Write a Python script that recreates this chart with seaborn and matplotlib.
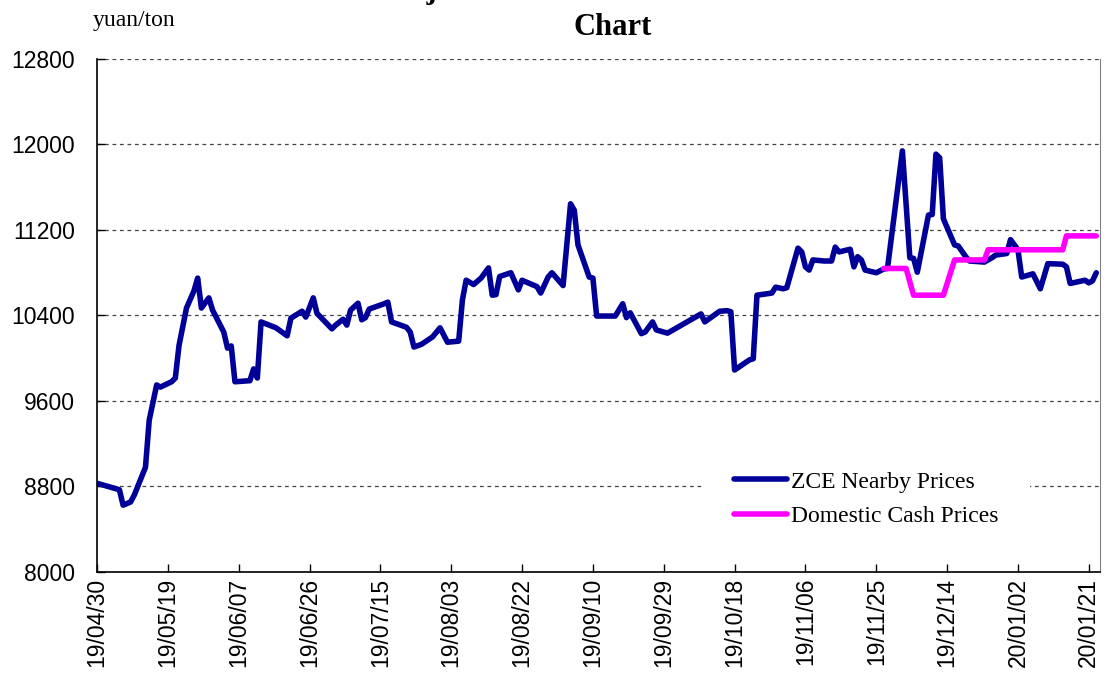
import matplotlib
matplotlib.use("Agg")
import matplotlib.pyplot as plt
import matplotlib.dates as mdates
import pandas as pd
import seaborn as sns

# ── data
zce_dates = [
    "2019-04-30", "2019-05-06", "2019-05-07", "2019-05-08", "2019-05-09", "2019-05-10",
    "2019-05-13", "2019-05-14", "2019-05-16", "2019-05-17", "2019-05-20", "2019-05-21",
    "2019-05-22", "2019-05-24", "2019-05-26", "2019-05-27", "2019-05-28", "2019-05-30",
    "2019-05-31", "2019-06-03", "2019-06-04", "2019-06-05", "2019-06-06", "2019-06-10",
    "2019-06-11", "2019-06-12", "2019-06-13", "2019-06-17", "2019-06-19", "2019-06-20",
    "2019-06-21", "2019-06-24", "2019-06-25", "2019-06-27", "2019-06-28", "2019-07-02",
    "2019-07-03", "2019-07-05", "2019-07-06", "2019-07-07", "2019-07-09", "2019-07-10",
    "2019-07-11", "2019-07-12", "2019-07-16", "2019-07-17", "2019-07-18", "2019-07-22",
    "2019-07-23", "2019-07-24", "2019-07-26", "2019-07-29", "2019-07-31", "2019-08-02",
    "2019-08-05", "2019-08-06", "2019-08-07", "2019-08-09", "2019-08-11", "2019-08-13",
    "2019-08-14", "2019-08-15", "2019-08-16", "2019-08-19", "2019-08-21", "2019-08-22",
    "2019-08-26", "2019-08-27", "2019-08-29", "2019-08-30", "2019-09-02", "2019-09-04",
    "2019-09-05", "2019-09-06", "2019-09-09", "2019-09-10", "2019-09-11", "2019-09-16",
    "2019-09-18", "2019-09-19", "2019-09-20", "2019-09-23", "2019-09-24", "2019-09-26",
    "2019-09-27", "2019-09-30", "2019-10-08", "2019-10-09", "2019-10-10", "2019-10-14",
    "2019-10-16", "2019-10-17", "2019-10-18", "2019-10-22", "2019-10-23", "2019-10-24",
    "2019-10-28", "2019-10-29", "2019-10-31", "2019-11-01", "2019-11-04", "2019-11-05",
    "2019-11-06", "2019-11-07", "2019-11-08", "2019-11-11", "2019-11-13", "2019-11-14",
    "2019-11-15", "2019-11-18", "2019-11-19", "2019-11-20", "2019-11-21", "2019-11-22",
    "2019-11-25", "2019-11-27", "2019-11-28", "2019-12-02", "2019-12-04", "2019-12-05",
    "2019-12-06", "2019-12-09", "2019-12-10", "2019-12-11", "2019-12-12", "2019-12-13",
    "2019-12-16", "2019-12-17", "2019-12-19", "2019-12-20", "2019-12-24", "2019-12-26",
    "2019-12-27", "2019-12-30", "2019-12-31", "2020-01-02", "2020-01-03", "2020-01-06",
    "2020-01-08", "2020-01-10", "2020-01-14", "2020-01-15", "2020-01-16", "2020-01-20",
    "2020-01-21", "2020-01-22", "2020-01-23",
]
zce_prices = [
    8830, 8770, 8625, 8640, 8655, 8720,
    8980, 9420, 9750, 9730, 9780, 9815,
    10120, 10470, 10630, 10750, 10470, 10565,
    10450, 10245, 10095, 10115, 9780, 9790,
    9900, 9815, 10340, 10285, 10235, 10210,
    10375, 10440, 10385, 10565, 10420, 10275,
    10310, 10365, 10310, 10450, 10515, 10360,
    10380, 10460, 10510, 10525, 10340, 10290,
    10245, 10105, 10130, 10200, 10285, 10150,
    10160, 10545, 10730, 10690, 10750, 10845,
    10590, 10595, 10765, 10800, 10640, 10730,
    10670, 10610, 10760, 10800, 10680, 11445,
    11385, 11060, 10760, 10750, 10395, 10395,
    10510, 10380, 10425, 10230, 10245, 10340,
    10265, 10235, 10395, 10415, 10340, 10440,
    10445, 10435, 9890, 9985, 9995, 10590,
    10610, 10665, 10650, 10660, 11030, 10995,
    10855, 10825, 10920, 10910, 10910, 11040,
    10995, 11020, 10855, 10950, 10920, 10825,
    10800, 10835, 10840, 11940, 10940, 10935,
    10805, 11340, 11345, 11910, 11875, 11305,
    11060, 11050, 10950, 10910, 10900, 10940,
    10965, 10980, 11110, 11015, 10760, 10790,
    10650, 10885, 10880, 10855, 10700, 10730,
    10705, 10725, 10800,
]

cash_dates = ["2019-11-27", "2019-12-03", "2019-12-05", "2019-12-13", "2019-12-16",
              "2019-12-24", "2019-12-25", "2020-01-14", "2020-01-15", "2020-01-23"]
cash_prices = [10840, 10840, 10590, 10590, 10920, 10920, 11015, 11015, 11145, 11145]

y_ticks = list(range(8000, 12801, 800))

zce = pd.DataFrame({"date": pd.to_datetime(zce_dates), "price": zce_prices})
cash = pd.DataFrame({"date": pd.to_datetime(cash_dates), "price": cash_prices})

sns.set_style("white")
plt.rcParams["font.family"] = ["Liberation Sans", "DejaVu Sans"]
plt.rcParams["text.color"] = "black"
plt.rcParams["lines.solid_capstyle"] = "round"
plt.rcParams["lines.solid_joinstyle"] = "round"

W, H = 1107, 677
fig = plt.figure(figsize=(W / 100, H / 100), dpi=100)
ax = fig.add_axes([97 / W, 1 - 572 / H, 1003 / W, 513 / H])

sns.lineplot(data=zce, x="date", y="price", ax=ax, color="#000099", lw=4.0,
             estimator=None, sort=False, label="ZCE Nearby Prices")
sns.lineplot(data=cash, x="date", y="price", ax=ax, color="#FF00FF", lw=4.0,
             estimator=None, sort=False, label="Domestic Cash Prices")

ax.set_ylim(8000, 12800)
ax.set_yticks(y_ticks)
ax.set_xlim(pd.Timestamp("2019-04-30"), pd.Timestamp("2020-01-24"))
ax.set_xticks(pd.date_range("2019-04-30", "2020-01-21", freq="19D"))
ax.xaxis.set_major_formatter(mdates.DateFormatter("%y/%m/%d"))
ax.set_xlabel("")
ax.set_ylabel("")

ax.grid(axis="y", linestyle=(0, (3, 3)), color="#444444", lw=0.9)
ax.grid(axis="x", visible=False)
ax.set_axisbelow(True)
ax.spines["top"].set_visible(False)
ax.spines["right"].set_color("#808080")
for s in ["left", "bottom"]:
    ax.spines[s].set_color("black")
    ax.spines[s].set_linewidth(1.2)

ax.tick_params(axis="both", direction="in", length=6, width=1, labelsize=16.5,
               colors="black", labelcolor="black")
ax.tick_params(axis="y", pad=16, left=True)
ax.tick_params(axis="x", pad=4, labelrotation=90, bottom=True)

leg = ax.legend(loc="center", bbox_to_anchor=(0.767, 0.142),
                prop=dict(family="Liberation Serif", size=17),
                frameon=True, facecolor="white", edgecolor="none", framealpha=1,
                fancybox=False, handlelength=2.25, handletextpad=0.2,
                labelspacing=0.55, borderpad=1.3)
for t in leg.get_texts():
    t.set_color("black")

fig.text(93 / W, 1 - 26 / H, "yuan/ton", family="Liberation Serif", size=17,
         va="baseline", color="black")
fig.text(613 / W, 1 - 35 / H, "Chart", family="Liberation Serif", size=22,
         weight="bold", ha="center", va="baseline", color="black")

# first title line sits above the canvas; only the descender of the "j" shows
fig.canvas.draw()
r = fig.canvas.get_renderer()
probe = fig.text(0, 0, "Red Ju", family="Liberation Serif", size=22, weight="bold")
w_probe = probe.get_window_extent(r).width
probe.remove()
fig.text((427 - w_probe) / W, 1 + 2 / H, "Red Jujube Futures and Cash Price Trend",
         family="Liberation Serif", size=22, weight="bold", va="baseline", color="black")

plt.savefig("out.png", dpi=100)
plt.close()
